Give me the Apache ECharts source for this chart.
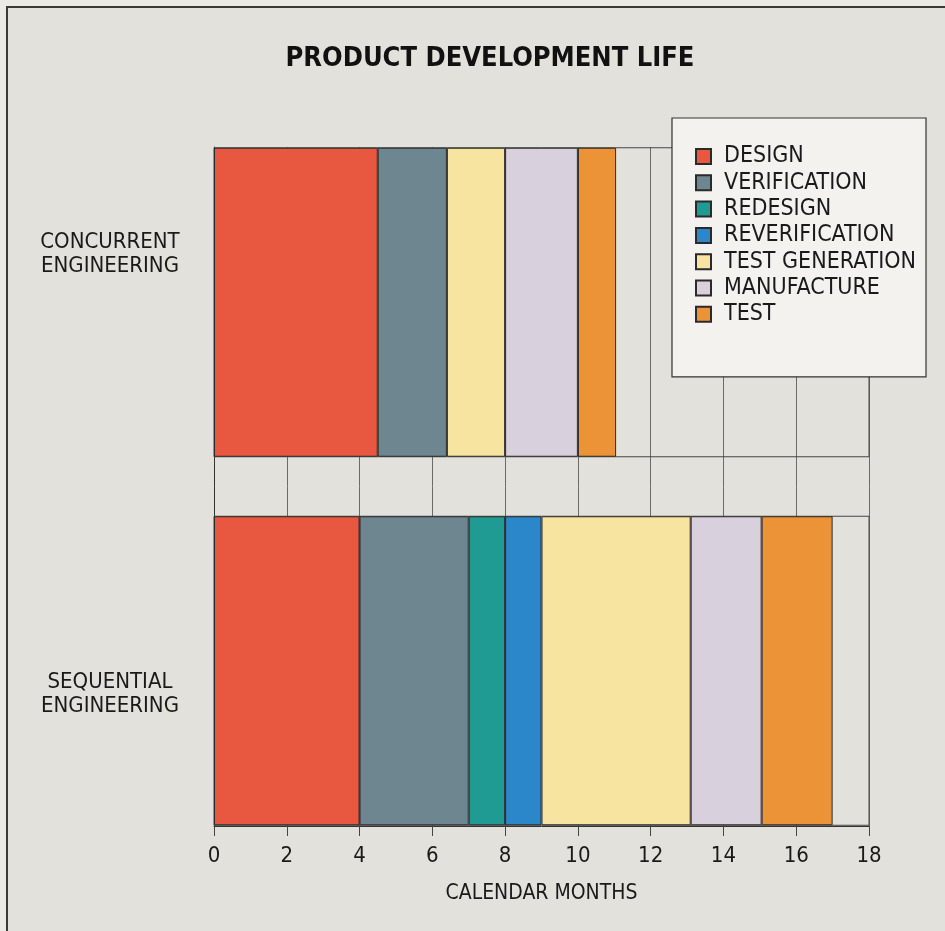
<!DOCTYPE html>
<html>
<head>
<meta charset="utf-8">
<script src="https://cdn.jsdelivr.net/npm/echarts@6/dist/echarts.min.js"></script>
<style>
  html, body { margin: 0; padding: 0; background: #eceae5; overflow: hidden; }
  #frame {
    position: absolute; left: 6px; top: 6px; width: 960px; height: 960px;
    border-left: 2px solid #3a3a3a; border-top: 2px solid #3a3a3a;
    background: #e3e1db;
  }
  #chart { position: absolute; left: 0; top: 0; width: 945px; height: 931px; }
</style>
</head>
<body>
<div id="frame"></div>
<div id="chart"></div>
<script>
const FONT = "'Liberation Sans Narrow', 'DejaVu Sans Condensed', 'Roboto', sans-serif";

// --- DATA (months) ---
const categories = ["CONCURRENT\nENGINEERING", "SEQUENTIAL\nENGINEERING"];
const phases = ["DESIGN", "VERIFICATION", "REDESIGN", "REVERIFICATION", "TEST GENERATION", "MANUFACTURE", "TEST"];
const design = [4.5, 4];
const verification = [1.9, 3];
const redesign = [null, 1];
const reverification = [null, 1];
const testGeneration = [1.6, 4.1];
const manufacture = [2, 1.95];
const test = [1.05, 1.95];
const monthTicks = [0, 2, 4, 6, 8, 10, 12, 14, 16, 18];

const colors = ["#e8573f", "#6d8690", "#1f9b94", "#2b87c9", "#f6e4a0", "#d8d0dc", "#ec9337"];
const values = [design, verification, redesign, reverification, testGeneration, manufacture, test];

const chart = echarts.init(document.getElementById("chart"));

const series = phases.map((name, i) => ({
  name: name,
  type: "bar",
  stack: "life",
  xAxisIndex: 0,
  yAxisIndex: 0,
  barWidth: 309,
  data: values[i],
  itemStyle: { color: colors[i], borderColor: "#2a2a2a", borderWidth: 1 },
  // row frame lines come from the first series' background
  showBackground: i === 0,
  backgroundStyle: { color: "rgba(0,0,0,0)", borderColor: "#444", borderWidth: 1 },
  emphasis: { disabled: true },
}));

const labelText = { fontFamily: FONT, fontSize: 22, color: "#1a1a1a", lineHeight: 24, align: "center" };

const option = {
  backgroundColor: "transparent",
  animation: false,
  title: {
    text: "PRODUCT DEVELOPMENT LIFE",
    left: 485,
    top: 40,
    textAlign: "center",
    textStyle: { fontFamily: FONT, fontWeight: "bold", fontSize: 27, color: "#111" },
  },
  legend: {
    orient: "vertical",
    left: 672,
    top: 118,
    padding: [27, 10, 51, 23],
    itemWidth: 15,
    itemHeight: 15,
    itemGap: 3.3,
    icon: "rect",
    backgroundColor: "#f3f2ee",
    borderColor: "#333",
    borderWidth: 1.2,
    borderRadius: 0,
    selectedMode: false,
    data: phases,
    textStyle: { fontFamily: FONT, fontSize: 23, color: "#1a1a1a", padding: [0, 0, 0, 8] },
  },
  grid: [
    // bars
    { left: 214, right: 76, top: 118, height: 737 },
    // axis frame
    { left: 214, right: 76, top: 147, height: 679 },
  ],
  xAxis: [
    { gridIndex: 0, type: "value", min: 0, max: 18, show: false },
    {
      gridIndex: 1,
      type: "value",
      min: 0,
      max: 18,
      interval: 2,
      axisLine: { show: true, lineStyle: { color: "#333", width: 1 } },
      axisTick: { show: true, length: 10, lineStyle: { color: "#444" } },
      axisLabel: {
        margin: 19,
        fontFamily: FONT,
        fontSize: 22,
        color: "#1a1a1a",
        customValues: monthTicks,
      },
      splitLine: { show: true, lineStyle: { color: "#6a6a6a", width: 1 } },
      name: "CALENDAR MONTHS",
      nameLocation: "middle",
      nameGap: 57,
      nameTextStyle: { fontFamily: FONT, fontSize: 21, color: "#1a1a1a" },
    },
  ],
  yAxis: [
    {
      gridIndex: 0,
      type: "category",
      inverse: true,
      data: categories,
      axisLine: { show: false },
      axisTick: { show: false },
      splitLine: { show: false },
      axisLabel: {
        margin: 104,
        align: "center",
        formatter: (v, idx) => {
          const parts = v.split("\n");
          // spacer lines shift the label block off the bar centre, as in the print
          return idx === 0
            ? "{t|" + parts[0] + "}\n{t|" + parts[1] + "}\n{s1| }"
            : "{s2| }\n{t|" + parts[0] + "}\n{t|" + parts[1] + "}";
        },
        rich: {
          t: labelText,
          s1: { fontSize: 10, lineHeight: 96 },
          s2: { fontSize: 10, lineHeight: 48 },
        },
      },
    },
    {
      gridIndex: 1,
      type: "value",
      min: 0,
      max: 1,
      axisLine: { show: true, lineStyle: { color: "#333", width: 1 } },
      axisTick: { show: false },
      axisLabel: { show: false },
      splitLine: { show: false },
    },
  ],
  series: series,
};

chart.setOption(option);
</script>
</body>
</html>
